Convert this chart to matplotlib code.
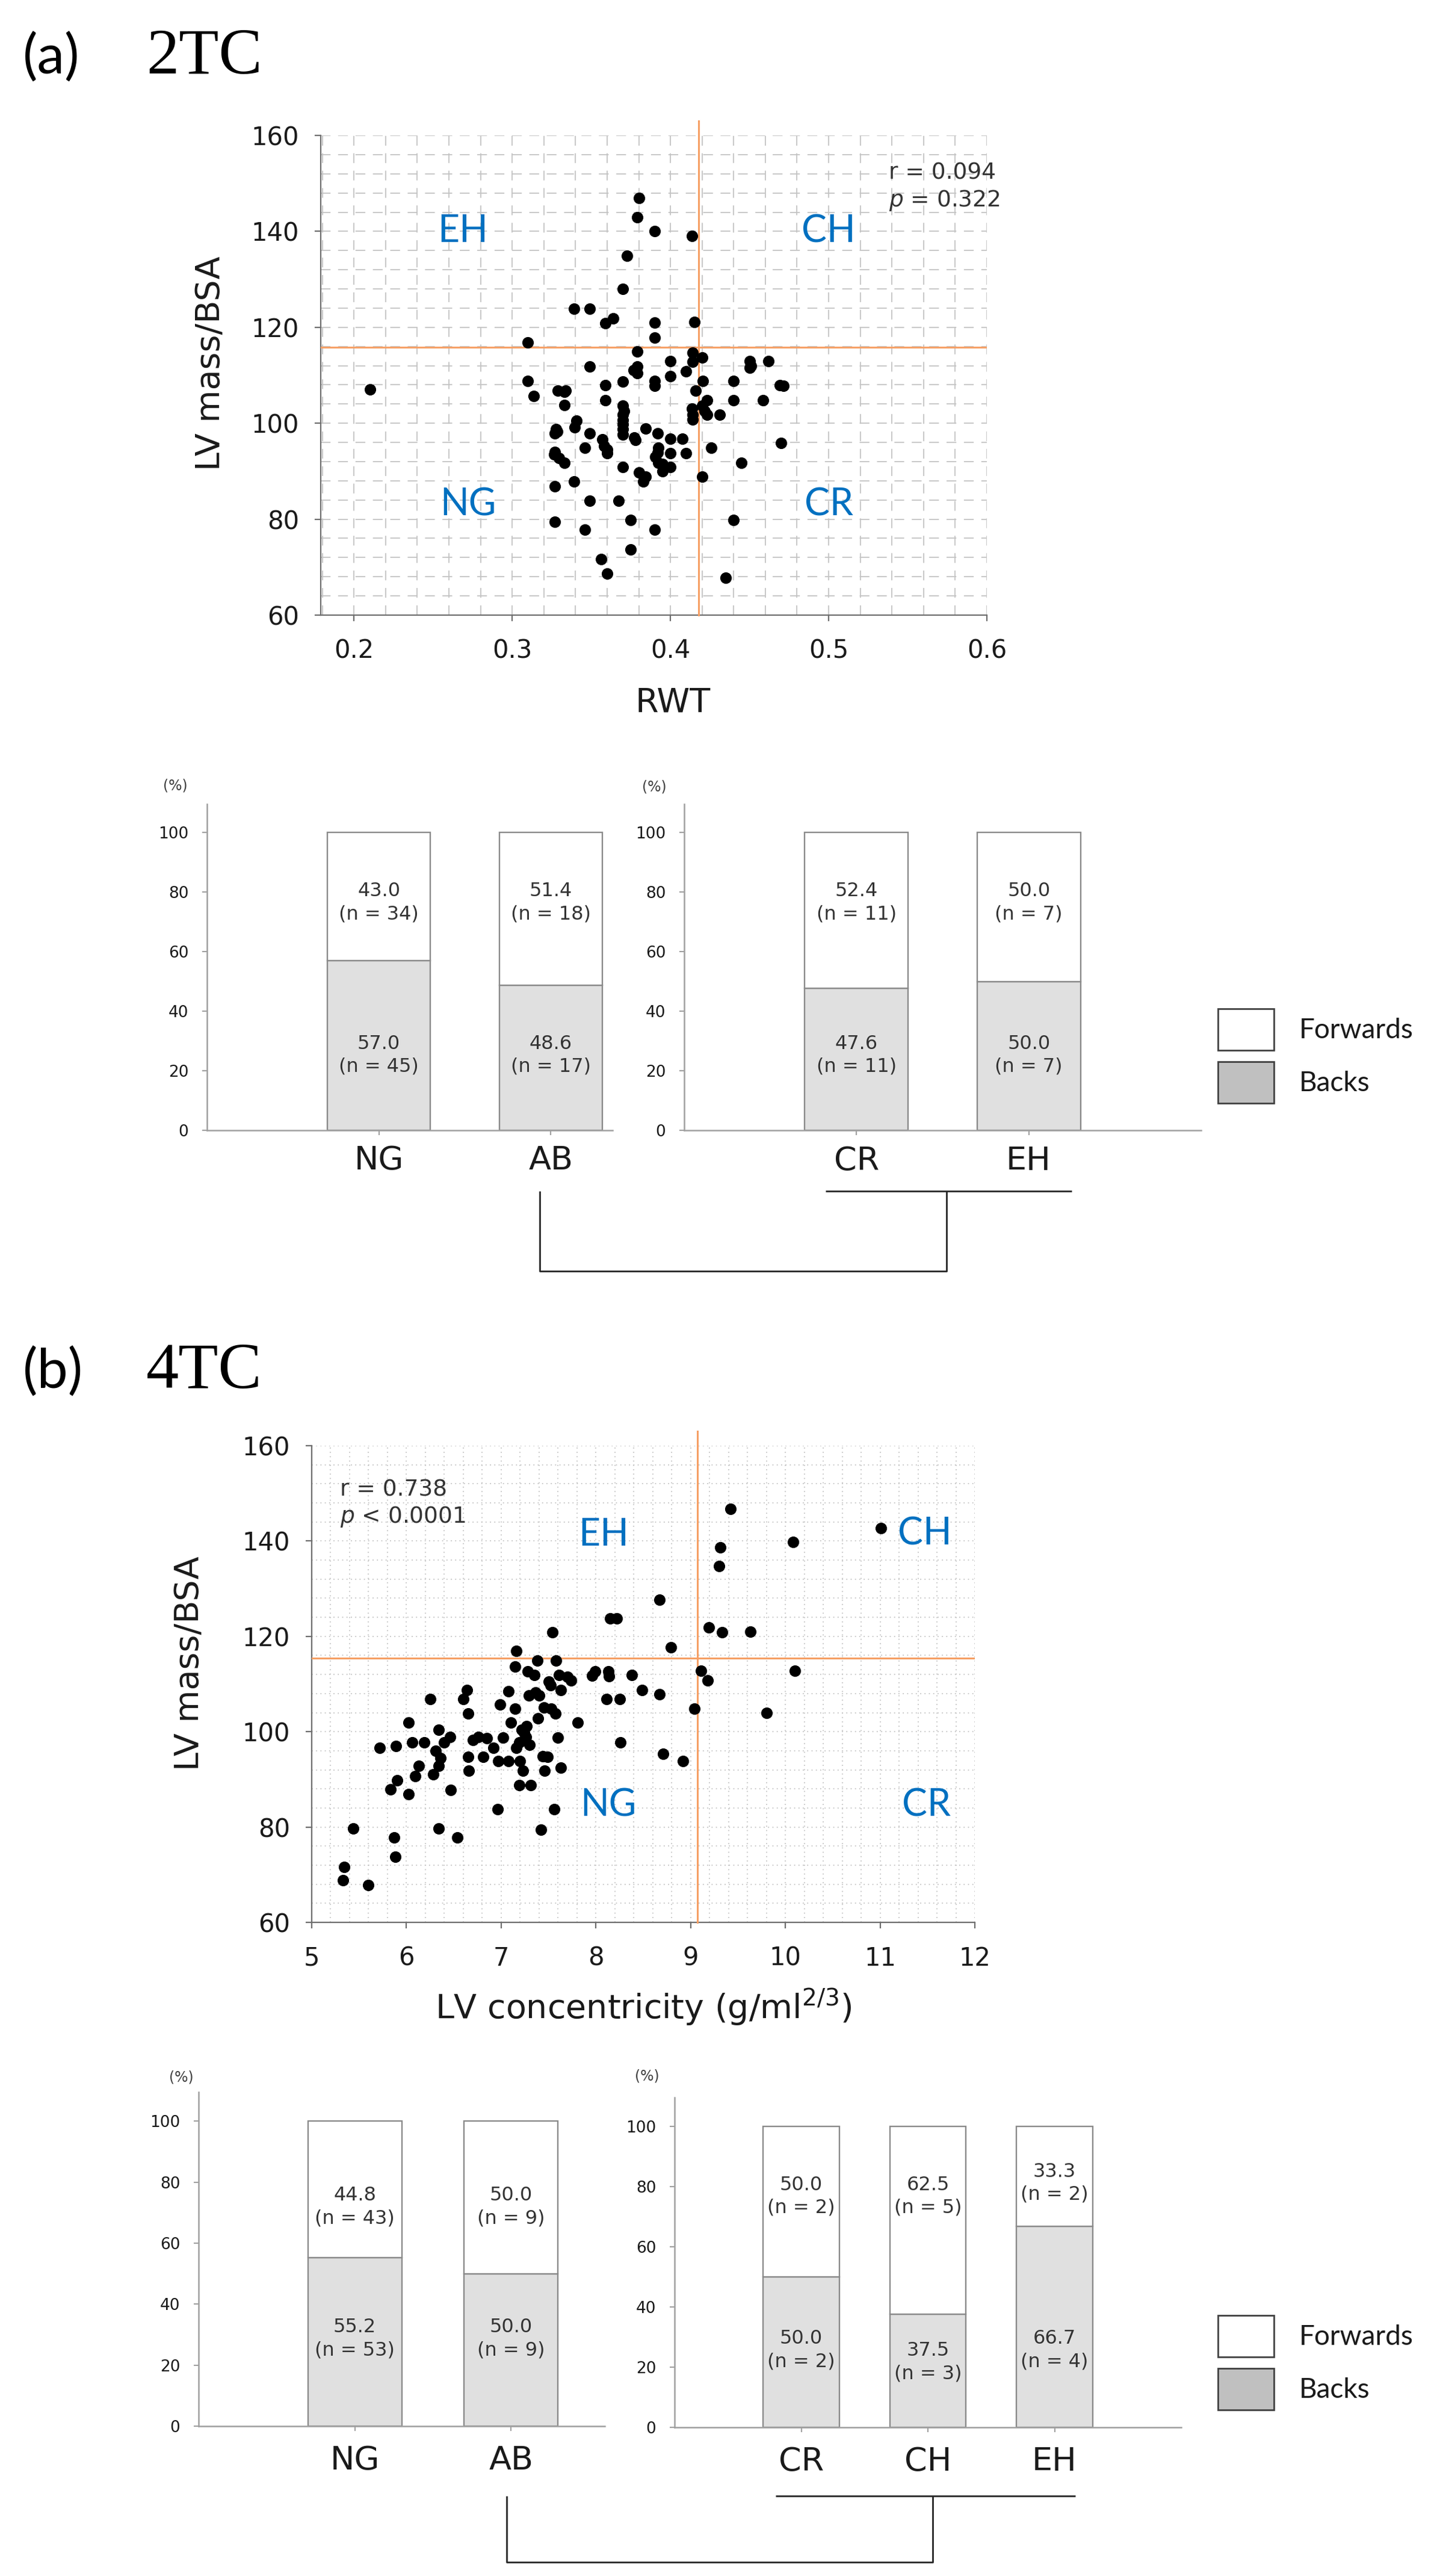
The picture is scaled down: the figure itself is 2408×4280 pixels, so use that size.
import numpy as np
import matplotlib.pyplot as plt
from matplotlib.patches import Rectangle
from matplotlib.ticker import MultipleLocator

# ---------------- data ----------------
# (a) 2TC scatter: relative wall thickness vs LV mass/BSA
RWT_2TC = [
    0.210, 0.380, 0.379, 0.390, 0.4135, 0.3725, 0.370, 0.339, 0.349, 0.364,
    0.359, 0.390, 0.415, 0.390, 0.310, 0.379, 0.414, 0.420, 0.414, 0.400,
    0.450, 0.462, 0.450, 0.349, 0.379, 0.3766, 0.410, 0.400, 0.310, 0.370,
    0.390, 0.4205, 0.440, 0.390, 0.359, 0.329, 0.3336, 0.469, 0.4716, 0.416,
    0.3135, 0.359, 0.440, 0.4587, 0.423, 0.333, 0.370, 0.420, 0.370, 0.414,
    0.423, 0.431, 0.370, 0.414, 0.3406, 0.3393, 0.3277, 0.370, 0.3845, 0.3268,
    0.349, 0.370, 0.392, 0.377, 0.400, 0.4074, 0.357, 0.470, 0.3458, 0.3583,
    0.3923, 0.426, 0.3268, 0.360, 0.400, 0.410, 0.3904, 0.3295, 0.3332, 0.3923,
    0.4448, 0.396, 0.400, 0.370, 0.395, 0.380, 0.3845, 0.383, 0.420, 0.339,
    0.3268, 0.349, 0.3673, 0.3268, 0.3747, 0.440, 0.3458, 0.390, 0.3747, 0.3563,
    0.360, 0.435,
    0.3285, 0.370, 0.3705, 0.379, 0.333, 0.392, 0.395, 0.360, 0.3265, 0.378,
    0.4135, 0.4215, 0.451,
]
LVMI_2TC = [
    107.0, 147.0, 142.9, 140.0, 139.0, 134.9, 128.0, 123.9, 123.9, 121.9,
    120.8, 121.0, 121.1, 117.9, 116.9, 114.9, 114.7, 113.7, 112.8, 112.9,
    113.0, 113.0, 111.6, 111.8, 111.8, 111.1, 110.8, 109.8, 108.8, 108.7,
    108.8, 108.8, 108.8, 107.8, 107.9, 106.8, 106.8, 107.9, 107.8, 106.8,
    105.7, 104.8, 104.8, 104.8, 104.8, 103.8, 103.7, 103.7, 101.8, 101.8,
    101.8, 101.8, 100.6, 100.8, 100.5, 99.1, 98.8, 98.8, 98.9, 97.9,
    97.9, 97.6, 97.9, 97.0, 96.8, 96.8, 96.7, 95.9, 94.9, 95.2,
    94.9, 94.9, 94.0, 93.8, 93.8, 93.8, 93.0, 92.7, 91.8, 91.8,
    91.8, 90.9, 90.9, 90.9, 90.0, 89.7, 88.8, 87.9, 88.8, 87.9,
    86.8, 83.8, 83.8, 79.5, 79.8, 79.8, 77.8, 77.8, 73.7, 71.7,
    68.7, 67.8,
    98.3, 99.8, 102.5, 110.5, 106.5, 93.9, 91.5, 94.5, 93.5, 96.5,
    103.0, 102.5, 112.0,
]

# (b) 4TC scatter: LV concentricity vs LV mass/BSA
CONC_4TC = [
    9.42, 9.31, 9.30, 8.67, 8.15, 8.22, 7.54, 9.19, 9.33, 9.63,
    8.79, 7.16, 7.38, 7.58, 7.15, 7.28, 7.35, 7.61, 7.99, 7.96,
    8.13, 8.14, 8.38, 7.74, 7.52, 7.63, 7.08, 7.29, 7.40, 8.49,
    8.67, 9.11, 9.18, 8.11, 8.25, 6.64, 6.60, 6.25, 6.99, 7.15,
    6.65, 7.45, 7.53, 7.57, 7.39, 9.04, 7.81, 7.10, 6.02, 6.34,
    6.46, 7.22, 7.26, 7.19, 6.76, 6.85, 7.02, 7.60, 8.26, 5.72,
    5.89, 6.06, 6.19, 6.40, 6.31, 6.92, 7.16, 6.65, 6.81, 6.97,
    7.08, 7.20, 7.44, 7.49, 8.71, 8.92, 7.63, 7.46, 7.23, 6.66,
    6.13, 6.34, 6.09, 6.28, 5.90, 5.83, 6.02, 6.47, 7.19, 7.31,
    6.96, 7.56, 7.42, 5.44, 6.34, 6.54, 5.87, 5.88, 5.34, 5.33,
    5.60, 10.08, 11.01, 10.10, 9.80,
    7.24, 7.27, 7.30, 6.70, 7.50, 7.70, 7.36, 6.36,
]
LVMI_4TC = [
    146.7, 138.7, 134.8, 127.7, 123.7, 123.7, 120.8, 121.9, 120.8, 121.0,
    117.7, 116.9, 114.9, 114.9, 113.7, 112.7, 111.9, 111.9, 112.6, 111.8,
    112.6, 111.6, 111.9, 110.7, 109.8, 108.8, 108.5, 107.6, 107.6, 108.8,
    107.8, 112.8, 110.7, 106.8, 106.8, 108.8, 106.8, 106.8, 105.7, 104.8,
    103.8, 105.1, 104.8, 103.8, 102.8, 104.8, 101.9, 101.9, 101.9, 100.4,
    98.9, 100.4, 98.9, 97.8, 98.9, 98.6, 98.8, 98.8, 97.8, 96.6,
    97.0, 97.8, 97.8, 97.8, 96.0, 96.6, 96.6, 94.7, 94.7, 93.9,
    93.9, 93.8, 94.8, 94.7, 95.4, 93.8, 92.5, 91.8, 91.8, 91.8,
    92.8, 92.8, 90.7, 91.0, 89.8, 87.9, 86.9, 87.8, 88.8, 88.8,
    83.8, 83.8, 79.5, 79.7, 79.7, 77.8, 77.8, 73.8, 71.6, 68.8,
    67.8, 139.8, 142.7, 112.8, 103.9,
    99.8, 101.2, 97.2, 98.3, 110.5, 111.5, 108.2, 94.5,
]

# stacked bars: % forwards / % backs and counts
GROUPS = ["NG", "AB"]
FWD_2TC = [43.0, 51.4]
BACK_2TC = [57.0, 48.6]
N_FWD_2TC = [34, 18]
N_BACK_2TC = [45, 17]

SUB_2TC = ["CR", "EH"]
FWD_SUB_2TC = [52.4, 50.0]
BACK_SUB_2TC = [47.6, 50.0]
N_FWD_SUB_2TC = [11, 7]
N_BACK_SUB_2TC = [11, 7]

FWD_4TC = [44.8, 50.0]
BACK_4TC = [55.2, 50.0]
N_FWD_4TC = [43, 9]
N_BACK_4TC = [53, 9]

SUB_4TC = ["CR", "CH", "EH"]
FWD_SUB_4TC = [50.0, 62.5, 33.3]
BACK_SUB_4TC = [50.0, 37.5, 66.7]
N_FWD_SUB_4TC = [2, 5, 2]
N_BACK_SUB_4TC = [2, 3, 4]

# ---------------- style ----------------
FIG_W, FIG_H = 2408, 4280
TEXT = "#1a1a1a"
SPINE = "#6e6e6e"
BAR_SPINE = "#a0a0a0"
BAR_EDGE = "#8a8a8a"
BACK_FILL = "#e0e0e0"
LEGEND_BACK = "#c0c0c0"
GRID_COLOR = "#c4c4c4"
ORANGE = "#f6a066"
BLUE = "#0070c0"
LINE = "#262626"


def px_axes(fig, left, top, right, bottom):
    return fig.add_axes([left / FIG_W, 1 - bottom / FIG_H,
                         (right - left) / FIG_W, (bottom - top) / FIG_H])


def style_spines(ax, color, lw):
    for side in ("top", "right"):
        ax.spines[side].set_visible(False)
    for side in ("left", "bottom"):
        ax.spines[side].set_color(color)
        ax.spines[side].set_linewidth(lw)


def draw_scatter(fig, box, x, y, xlim, xticks, xminor, cut, grid_ls, quads,
                 stats, stats_x, stats_y, xlabel, xlabel_pos, ylabel_pos):
    ax = px_axes(fig, *box)
    ax.set_xlim(*xlim)
    ax.set_ylim(60, 160)
    ax.set_xticks(xticks)
    ax.set_yticks(range(60, 161, 20))
    ax.xaxis.set_minor_locator(MultipleLocator(xminor))
    ax.yaxis.set_minor_locator(MultipleLocator(4))
    ax.set_axisbelow(True)
    ax.grid(True, which="both", color=GRID_COLOR, lw=1.3, ls=grid_ls)
    ax.tick_params(which="minor", length=0)
    ax.tick_params(which="major", direction="out", length=7, width=1.6,
                   color=SPINE, labelsize=30, labelcolor=TEXT)
    ax.tick_params(axis="x", pad=21)
    ax.tick_params(axis="y", pad=19)
    style_spines(ax, SPINE, 1.6)

    ax.scatter(x, y, s=190, color="black", linewidths=0, zorder=4)
    ax.axvline(cut[0], color=ORANGE, lw=2.2, ymax=1.03, clip_on=False, zorder=3)
    ax.axhline(cut[1], color=ORANGE, lw=2.2, zorder=3)

    for label, (qx, qy) in quads.items():
        ax.text(qx, qy, label, color=BLUE, fontsize=45, family="Lato",
                ha="center", va="center", zorder=5)
    for line, sy in zip(stats, stats_y):
        ax.text(stats_x, sy, line, fontsize=27, color="#333333",
                ha="left", va="center", zorder=5)

    ax.set_xlabel(xlabel, fontsize=40, color=TEXT, va="center")
    ax.xaxis.set_label_coords(*xlabel_pos)
    ax.set_ylabel("LV mass/BSA", fontsize=40, color=TEXT, va="center")
    ax.yaxis.set_label_coords(*ylabel_pos)
    return ax


def draw_bars(fig, box, xmax, cats, fwd, back, n_fwd, n_back, label_base, xpad):
    ax = px_axes(fig, *box)
    pos = np.arange(1, len(cats) + 1)
    ax.bar(pos, back, width=0.6, color=BACK_FILL, edgecolor=BAR_EDGE,
           linewidth=1.7, zorder=2)
    ax.bar(pos, fwd, bottom=back, width=0.6, color="white", edgecolor=BAR_EDGE,
           linewidth=1.7, zorder=2)
    ax.set_xlim(0, xmax)
    ax.set_ylim(0, 109.5)
    ax.set_yticks(range(0, 101, 20))
    ax.set_xticks(pos, cats)
    ax.tick_params(axis="y", direction="out", length=6, width=1.5,
                   color=BAR_SPINE, labelsize=19, labelcolor=TEXT, pad=16)
    ax.tick_params(axis="x", direction="out", length=6, width=1.5,
                   color=BAR_SPINE, labelsize=39, labelcolor=TEXT, pad=xpad)
    style_spines(ax, BAR_SPINE, 1.8)

    # keep each two-line label clear of the divider between the segments
    for p, f, b, nf, nb in zip(pos, fwd, back, n_fwd, n_back):
        fy = max(label_base[0], b + 14.4)
        by = min(label_base[1], b - 15.9)
        ax.text(p, fy, f"{f:.1f}\n(n = {nf})", ha="center", va="center",
                fontsize=23, color="#333333", linespacing=1.3, zorder=3)
        ax.text(p, by, f"{b:.1f}\n(n = {nb})", ha="center", va="center",
                fontsize=23, color="#333333", linespacing=1.3, zorder=3)
    return ax


def draw_legend(ov, top):
    for i, (label, fill) in enumerate((("Forwards", "white"),
                                       ("Backs", LEGEND_BACK))):
        y0 = top + i * 88
        ov.add_patch(Rectangle((2024, y0), 93, 69, facecolor=fill,
                               edgecolor="#404040", linewidth=2.0))
        ov.text(2159, y0 + 36, label, fontsize=33, family="Lato",
                color=TEXT, ha="left", va="center")


def draw_bracket(ov, left_x, right_x, under_x0, under_x1, y_top, y_bottom):
    kw = dict(color=LINE, lw=2.0, solid_capstyle="butt")
    ov.plot([under_x0, under_x1], [y_top, y_top], **kw)
    ov.plot([right_x, right_x, left_x, left_x],
            [y_top, y_bottom, y_bottom, y_top], **kw)


def main():
    plt.rcParams["font.family"] = ["DejaVu Sans"]
    plt.rcParams["mathtext.fontset"] = "dejavusans"

    fig = plt.figure(figsize=(FIG_W / 100, FIG_H / 100), dpi=100,
                     facecolor="white")

    # full-figure overlay in pixel coordinates for titles, legends, brackets
    ov = fig.add_axes([0, 0, 1, 1])
    ov.set_xlim(0, FIG_W)
    ov.set_ylim(FIG_H, 0)
    ov.axis("off")

    for y, tag, name in ((96, "(a)", "2TC"), (2280, "(b)", "4TC")):
        ov.text(38, y, tag, fontsize=66, family="Lato", color="black",
                ha="left", va="center")
        ov.text(243, y, name, fontsize=78, family="Liberation Serif",
                color="black", ha="left", va="center")

    # ---- (a) 2TC ----
    draw_scatter(
        fig, (533, 225, 1640, 1022), RWT_2TC, LVMI_2TC,
        xlim=(0.179, 0.6), xticks=[0.2, 0.3, 0.4, 0.5, 0.6], xminor=0.02,
        cut=(0.4177, 115.8), grid_ls=(0, (9, 7)),
        quads={"EH": (0.269, 140), "CH": (0.500, 140),
               "NG": (0.272, 83), "CR": (0.500, 83)},
        stats=["r = 0.094", r"$p$ = 0.322"], stats_x=0.538,
        stats_y=[152.2, 146.4],
        xlabel="RWT", xlabel_pos=(0.529, -0.183), ylabel_pos=(-0.165, 0.525))

    draw_bars(fig, (344, 1336, 1018, 1878), 2.36, GROUPS, FWD_2TC, BACK_2TC,
              N_FWD_2TC, N_BACK_2TC, (76.4, 25.2), 11)
    draw_bars(fig, (1137, 1336, 1996, 1878), 3.0, SUB_2TC, FWD_SUB_2TC,
              BACK_SUB_2TC, N_FWD_SUB_2TC, N_BACK_SUB_2TC, (76.4, 25.2), 12)
    for px, py in ((291, 1306), (1087, 1308)):
        ov.text(px, py, "(%)", fontsize=17, color="#404040",
                ha="center", va="center")
    draw_legend(ov, 1676)
    draw_bracket(ov, 897, 1573, 1372, 1781, 1979, 2112)

    # ---- (b) 4TC ----
    draw_scatter(
        fig, (518, 2402, 1620, 3194), CONC_4TC, LVMI_4TC,
        xlim=(5, 12), xticks=range(5, 13), xminor=0.2,
        cut=(9.07, 115.4), grid_ls=(0, (1, 3)),
        quads={"EH": (8.08, 141.3), "CH": (11.47, 141.5),
               "NG": (8.13, 84.5), "CR": (11.49, 84.5)},
        stats=["r = 0.738", r"$p$ < 0.0001"], stats_x=5.30,
        stats_y=[150.7, 145.1],
        xlabel=r"LV concentricity (g/ml$^{2/3}$)", xlabel_pos=(0.5, -0.179),
        ylabel_pos=(-0.184, 0.543))

    draw_bars(fig, (330, 3476, 1005, 4031), 2.6, GROUPS, FWD_4TC, BACK_4TC,
              N_FWD_4TC, N_BACK_4TC, (71.9, 28.7), 16)
    draw_bars(fig, (1121, 3485, 1963, 4033), 4.0, SUB_4TC, FWD_SUB_4TC,
              BACK_SUB_4TC, N_FWD_SUB_4TC, N_BACK_SUB_4TC, (76.7, 25.6), 16)
    for px, py in ((301, 3451), (1075, 3450)):
        ov.text(px, py, "(%)", fontsize=17, color="#404040",
                ha="center", va="center")
    draw_legend(ov, 3847)
    draw_bracket(ov, 842, 1550, 1289, 1787, 4147, 4257)

    fig.savefig("out.png", dpi=100, facecolor="white")


if __name__ == "__main__":
    main()
